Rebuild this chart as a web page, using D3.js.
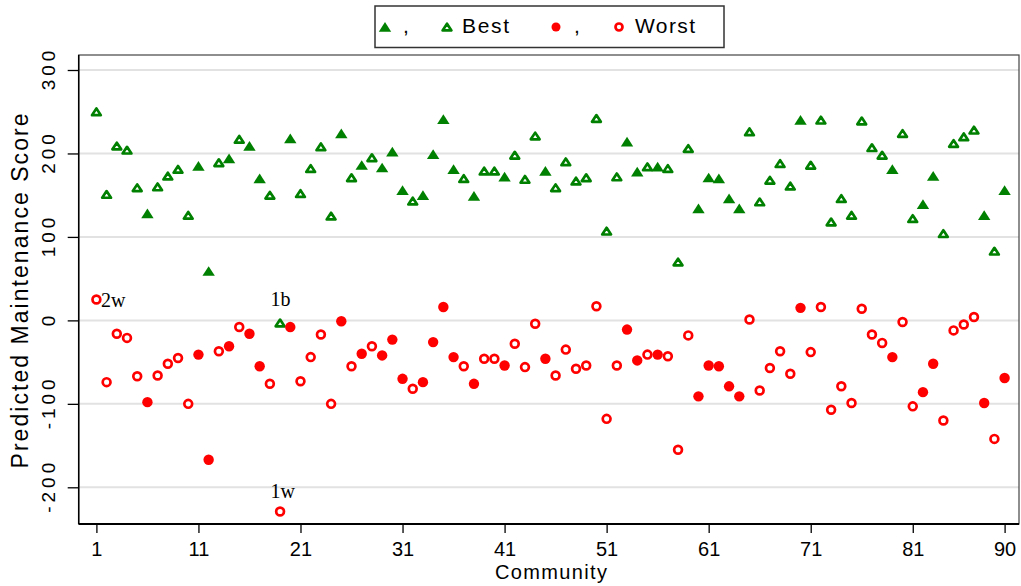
<!DOCTYPE html>
<html>
<head>
<meta charset="utf-8">
<script src="https://cdn.jsdelivr.net/npm/d3@7"></script>
<style>
body { margin: 0; background: #fff; }
svg { display: block; font-family: "Liberation Sans", Arial, sans-serif; }
</style>
</head>
<body>
<svg id="chart" width="1021" height="586"></svg>
<script>
// values, one per community (1..90)
const communities = d3.range(1, 91);

const best = [250, 151, 209, 204, 159, 128, 160, 173, 181, 126,
              185, 59, 189, 194, 217, 209, 170, 150, -3, 218,
              152, 182, 208, 125, 224, 171, 186, 195, 183, 202,
              156, 143, 150, 199, 241, 181, 170, 149, 179, 179,
              172, 198, 169, 221, 179, 159, 190, 167, 171, 242,
              107, 172, 214, 178, 184, 184, 182, 70, 206, 134,
              171, 170, 146, 134, 226, 142, 168, 188, 161, 240,
              186, 240, 118, 146, 126, 239, 207, 198, 181, 224,
              122, 139, 173, 104, 212, 220, 228, 126, 83, 156];

const worst = [25, -74, -16, -21, -67, -98, -66, -52, -45, -100,
               -41, -167, -37, -31, -8, -16, -55, -76, -229, -8,
               -73, -44, -17, -100, -1, -55, -40, -31, -42, -23,
               -70, -82, -74, -26, 16, -44, -55, -76, -46, -46,
               -54, -28, -56, -4, -46, -66, -35, -58, -54, 17,
               -118, -54, -11, -48, -41, -41, -43, -155, -18, -91,
               -54, -55, -79, -91, 1, -84, -57, -37, -64, 15,
               -38, 16, -107, -79, -99, 14, -17, -27, -44, -2,
               -103, -86, -52, -120, -12, -5, 4, -99, -142, -69];

// communities drawn with solid markers
const filled = [6, 11, 12, 14, 16, 17, 20, 25, 27, 29, 30, 31, 33, 34, 35, 36, 38,
                41, 45, 53, 54, 56, 60, 61, 62, 63, 64, 70, 79, 82, 83, 88, 90];

const xTicks = [1, 11, 21, 31, 41, 51, 61, 71, 81, 90];
const yTicks = [-200, -100, 0, 100, 200, 300];

const notes = [
    {id: 1, series: "worst", text: "2w"},
    {id: 19, series: "best", text: "1b"},
    {id: 19, series: "worst", text: "1w"}
];

const green = "#008000";
const red = "#ff0000";

const svg = d3.select("#chart");
const plot = {left: 78.7, right: 1019, top: 55, bottom: 524};

const x = d3.scaleLinear().domain([1, 90]).range([96.4, 1004.6]);
const y = d3.scaleLinear().domain([-200, 300]).range([487.3, 70]);

const isFilled = d => filled.includes(d);

// gridlines
svg.append("g")
    .selectAll("line")
    .data(yTicks)
    .enter()
    .append("line")
    .attr("x1", plot.left)
    .attr("x2", plot.right)
    .attr("y1", d => y(d))
    .attr("y2", d => y(d))
    .attr("stroke", "#e2e2e2")
    .attr("stroke-width", 2);

// plot frame
svg.append("rect")
    .attr("x", plot.left)
    .attr("y", plot.top)
    .attr("width", plot.right - plot.left)
    .attr("height", plot.bottom - plot.top)
    .attr("fill", "none")
    .attr("stroke", "#444")
    .attr("stroke-width", 1.2);

// x axis
const xg = svg.append("g")
    .attr("transform", `translate(0,${plot.bottom})`)
    .call(d3.axisBottom(x).tickValues(xTicks).tickSize(9).tickFormat(d => String(d)));
xg.attr("font-size", null).attr("font-family", null);
xg.select(".domain").remove();
xg.selectAll(".tick line").attr("stroke", "#000").attr("stroke-width", 1.3);
xg.selectAll(".tick text")
    .attr("y", 32)
    .attr("dy", null)
    .attr("fill", "#000")
    .attr("font-size", 20);
svg.append("line")
    .attr("x1", plot.left).attr("x2", plot.right)
    .attr("y1", plot.bottom).attr("y2", plot.bottom)
    .attr("stroke", "#000").attr("stroke-width", 2);

// y axis (plain hyphen for negatives, as in the original)
const yg = svg.append("g")
    .attr("transform", `translate(${plot.left},0)`)
    .call(d3.axisLeft(y).tickValues(yTicks).tickSize(11).tickFormat(d => String(d)));
yg.attr("font-size", null).attr("font-family", null);
yg.select(".domain").remove();
yg.selectAll(".tick line").attr("stroke", "#000").attr("stroke-width", 1.3);
yg.selectAll(".tick text")
    .attr("x", 2)
    .attr("y", 0)
    .attr("dy", null)
    .attr("transform", "translate(-23.7,0) rotate(-90)")
    .attr("text-anchor", "middle")
    .attr("fill", "#000")
    .attr("font-size", 19)
    .style("letter-spacing", "4px");
svg.append("line")
    .attr("x1", plot.left).attr("x2", plot.left)
    .attr("y1", plot.top).attr("y2", plot.bottom)
    .attr("stroke", "#000").attr("stroke-width", 1.5);

// axis titles
svg.append("text")
    .attr("transform", "translate(28,291) rotate(-90)")
    .attr("text-anchor", "middle")
    .attr("font-size", 23)
    .attr("textLength", 355)
    .attr("lengthAdjust", "spacing")
    .text("Predicted Maintenance Score");

svg.append("text")
    .attr("x", 551)
    .attr("y", 579)
    .attr("text-anchor", "middle")
    .attr("font-size", 20)
    .attr("textLength", 112)
    .attr("lengthAdjust", "spacing")
    .text("Community");

// marker helpers
const triSolid = "M0,-5L6.2,4.7L-6.2,4.7Z";
const triOpen = "M0,-3.3L4.4,3.4L-4.4,3.4Z";

function triangle(sel, solid) {
    sel.append("path")
        .attr("d", solid ? triSolid : triOpen)
        .attr("fill", solid ? green : "#fff")
        .attr("stroke", solid ? "none" : green)
        .attr("stroke-width", 2.7)
        .attr("stroke-linejoin", "round");
}

function circle(sel, solid, r) {
    sel.append("circle")
        .attr("r", solid ? r : r - 1.3)
        .attr("fill", solid ? red : "#fff")
        .attr("stroke", solid ? "none" : red)
        .attr("stroke-width", 2.7);
}

// best (triangles)
svg.append("g")
    .selectAll("g")
    .data(communities)
    .enter()
    .append("g")
    .attr("transform", d => `translate(${x(d)},${y(best[d - 1])})`)
    .each(function(d) { triangle(d3.select(this), isFilled(d)); });

// worst (circles)
svg.append("g")
    .selectAll("g")
    .data(communities)
    .enter()
    .append("g")
    .attr("transform", d => `translate(${x(d)},${y(worst[d - 1])})`)
    .each(function(d) { circle(d3.select(this), isFilled(d), 5.2); });

// point labels
svg.append("g")
    .selectAll("text")
    .data(notes)
    .enter()
    .append("text")
    .attr("font-family", "'Liberation Serif', 'Times New Roman', serif")
    .attr("font-size", 20)
    .attr("x", d => d.series === "worst" && d.id === 1 ? x(d.id) + 4.5 : x(d.id) - 9.5)
    .attr("y", d => {
        const v = d.series === "best" ? best[d.id - 1] : worst[d.id - 1];
        if (d.id === 1) return y(v) + 7;
        return d.series === "best" ? y(v) - 17 : y(v) - 13.5;
    })
    .text(d => d.text);

// legend
const legend = svg.append("g");
legend.append("rect")
    .attr("x", 375).attr("y", 6)
    .attr("width", 349).attr("height", 41.5)
    .attr("fill", "#fff")
    .attr("stroke", "#333")
    .attr("stroke-width", 1.5);

triangle(legend.append("g").attr("transform", "translate(385,27)"), true);
triangle(legend.append("g").attr("transform", "translate(447,27)"), false);
circle(legend.append("g").attr("transform", "translate(556,27)"), true, 4.5);
circle(legend.append("g").attr("transform", "translate(619,27)"), false, 4.8);

legend.append("text").attr("x", 403).attr("y", 33).attr("font-size", 21).text(",");
legend.append("text").attr("x", 574).attr("y", 33).attr("font-size", 21).text(",");
legend.append("text").attr("x", 462).attr("y", 33).attr("font-size", 21)
    .attr("textLength", 47).attr("lengthAdjust", "spacing").text("Best");
legend.append("text").attr("x", 635).attr("y", 33).attr("font-size", 21)
    .attr("textLength", 60).attr("lengthAdjust", "spacing").text("Worst");
</script>
</body>
</html>
